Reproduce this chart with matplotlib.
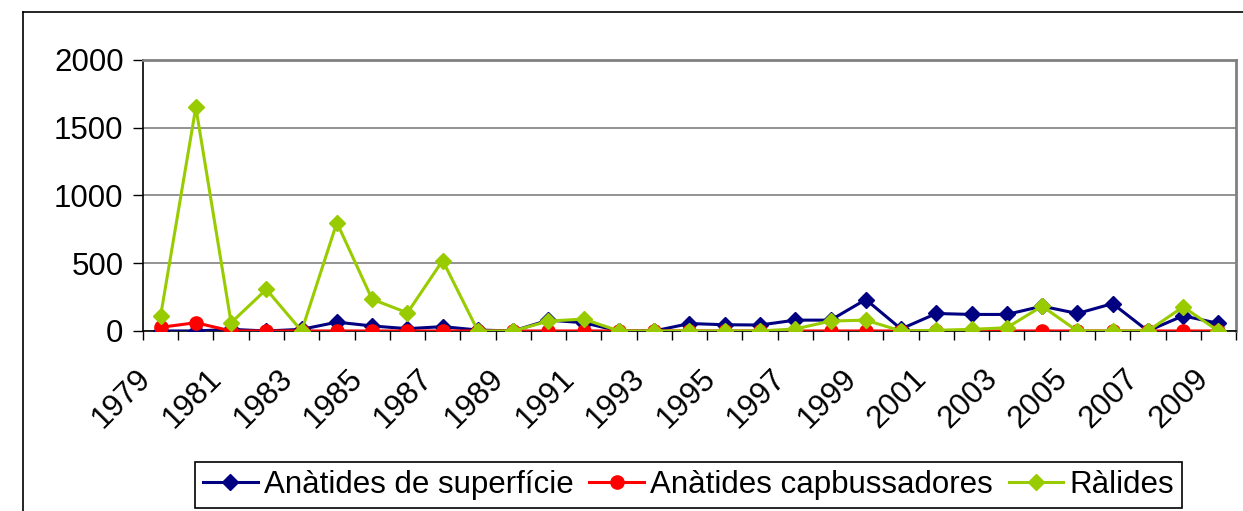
import matplotlib.pyplot as plt
from matplotlib.lines import Line2D
from matplotlib.transforms import ScaledTranslation

plt.rcParams['font.family'] = ['Liberation Sans', 'DejaVu Sans']

# anys 1979-2009
anys = list(range(1979, 2010))

# nombre d'individus per grup
superficie = [0, 0, 12, 0, 12, 65, 37, 17, 32, 7, 0, 80, 61, 0, 0, 55, 46, 44, 80, 80,
              232, 15, 129, 122, 122, 183, 129, 202, 0, 112, 56]
capbussadores = [27, 61, 0, 0, 0, 0, 0, 0, 0, 0, 0, 0, 0, 0, 0, 0, 0, 0, 0, 0,
                 0, 0, 0, 0, 0, 0, 0, 0, 0, 0, 0]
ralides = [110, 1651, 61, 307, 0, 800, 234, 134, 520, 0, 0, 73, 88, 0, 0, 0, 0, 0, 15, 73,
           80, 0, 5, 12, 24, 183, 0, 0, 0, 178, 0]

etiquetes = ['Anàtides de superfície', 'Anàtides capbussadores', 'Ràlides']

fig = plt.figure(figsize=(12.43, 5.11), dpi=100)
ax = fig.add_axes([0.1150, 0.3523, 0.9944 - 0.1150, 0.8826 - 0.3523])

x = list(range(len(anys)))
ax.plot(x, superficie, color='#000080', lw=2.2, marker='D', ms=8, label=etiquetes[0], zorder=3)
ax.plot(x, capbussadores, color='#FF0000', lw=2.2, marker='o', ms=9.5, label=etiquetes[1], zorder=4)
ax.plot(x, ralides, color='#99CC00', lw=2.2, marker='D', ms=8, label=etiquetes[2], zorder=5)

ax.set_xlim(-0.5, len(anys) - 0.5)
ax.set_ylim(0, 2000)
ax.set_yticks([0, 500, 1000, 1500, 2000])
ax.yaxis.grid(True, color='#808080', lw=1.2)
ax.set_axisbelow(True)
ax.tick_params(axis='y', labelsize=22.5, length=7, width=1, direction='out', pad=7)

# marques a les vores de les categories, etiquetes cada dos anys
ax.set_xticks([i - 0.5 for i in range(len(anys) + 1)])
ax.set_xticklabels([])
ax.tick_params(axis='x', length=6.5, width=1, direction='out')
off = ScaledTranslation(-14 / 100, -43 / 100, fig.dpi_scale_trans)
for i, a in enumerate(anys):
    if i % 2 == 0:
        ax.text(i, 0, str(a), transform=ax.get_xaxis_transform() + off, rotation=45,
                rotation_mode='anchor', ha='right', va='center', fontsize=22.5)

for s in ['top', 'right']:
    ax.spines[s].set_color('#808080')
    ax.spines[s].set_linewidth(2)
for s in ['left', 'bottom']:
    ax.spines[s].set_color('black')
    ax.spines[s].set_linewidth(1.2)

# vora exterior del gràfic
fig.add_artist(Line2D([23 / 1243, 23 / 1243], [0, 1 - 12 / 511], color='black', lw=1.2))
fig.add_artist(Line2D([23 / 1243, 1], [1 - 12 / 511, 1 - 12 / 511], color='black', lw=1.2))

leg = fig.legend(loc='center', bbox_to_anchor=(0.554, 0.051), ncol=3, fontsize=22.5,
                 frameon=True, fancybox=False, edgecolor='black', framealpha=1,
                 handlelength=1.75, handletextpad=0.2, columnspacing=0.5,
                 borderpad=0.25, borderaxespad=0)
leg.get_frame().set_linewidth(1.2)

fig.savefig('out.png', dpi=100)
